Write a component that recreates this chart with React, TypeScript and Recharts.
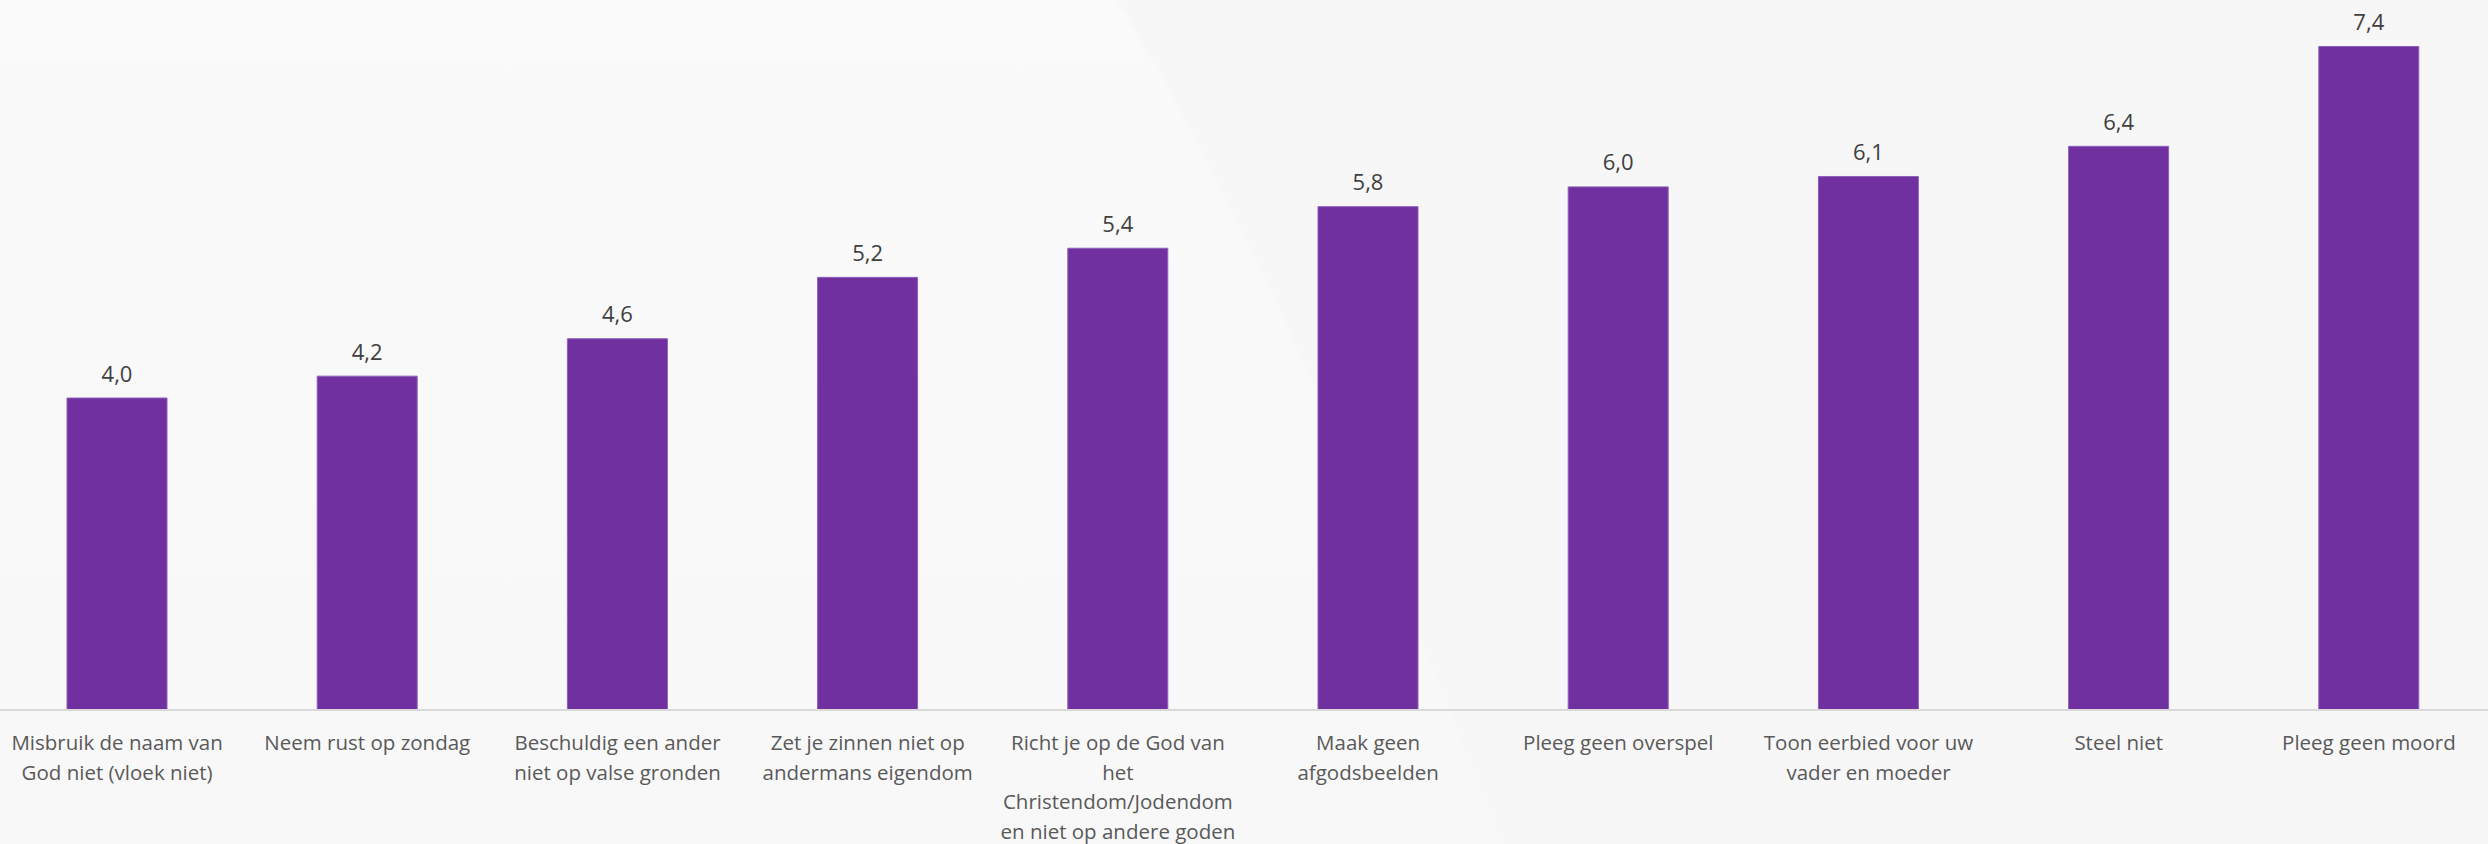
import React from 'react';
import { BarChart, Bar, XAxis, YAxis, LabelList } from 'recharts';

// Category labels, already split into the lines shown under each bar
const categoryLines: string[][] = [
  ['Misbruik de naam van', 'God niet (vloek niet)'],
  ['Neem rust op zondag'],
  ['Beschuldig een ander', 'niet op valse gronden'],
  ['Zet je zinnen niet op', 'andermans eigendom'],
  ['Richt je op de God van', 'het', 'Christendom/Jodendom', 'en niet op andere goden'],
  ['Maak geen', 'afgodsbeelden'],
  ['Pleeg geen overspel'],
  ['Toon eerbied voor uw', 'vader en moeder'],
  ['Steel niet'],
  ['Pleeg geen moord'],
];
const categories: string[] = categoryLines.map((l) => l.join(' '));

// Scores (labels show one decimal)
const scores: number[] = [4.0, 4.21, 4.57, 5.16, 5.44, 5.84, 6.03, 6.13, 6.42, 7.38];

const data = categories.map((c, i) => ({ name: c, score: scores[i] }));

const fmt = (v: number) => v.toFixed(1).replace('.', ',');

const FONT = "'Open Sans', 'Noto Sans', sans-serif";

const CategoryTick = (props: any) => {
  const { x, y, payload } = props;
  const idx = categories.indexOf(payload.value);
  const lines = idx >= 0 ? categoryLines[idx] : [String(payload.value)];
  return (
    <text
      x={x}
      y={y + 40}
      textAnchor="middle"
      fill="#595959"
      fontFamily={FONT}
      fontSize={20.5}
    >
      {lines.map((l, i) => (
        <tspan key={i} x={x} dy={i === 0 ? 0 : 29.6}>
          {l}
        </tspan>
      ))}
    </text>
  );
};

const ValueLabel = (props: any) => {
  const { x, y, width, value } = props;
  return (
    <text
      x={Number(x) + Number(width) / 2}
      y={Number(y) - 16.5}
      textAnchor="middle"
      fill="#404040"
      fontFamily={FONT}
      fontSize={22}
    >
      {fmt(Number(value))}
    </text>
  );
};

export default function App() {
  return (
    <div
      style={{
        position: 'absolute',
        left: 0,
        top: 0,
        width: 2488,
        height: 844,
        overflow: 'hidden',
        background: '#f8f8f8',
      }}
    >
      <svg
        width={2488}
        height={844}
        style={{ position: 'absolute', left: 0, top: 0 }}
      >
        <defs>
          <linearGradient id="bgfade" x1="0" y1="0" x2="0" y2="1">
            <stop offset="0" stopColor="#fafafa" stopOpacity={1} />
            <stop offset="0.45" stopColor="#fafafa" stopOpacity={0.6} />
            <stop offset="1" stopColor="#fafafa" stopOpacity={0.3} />
          </linearGradient>
        </defs>
        <rect x={0} y={0} width={2488} height={844} fill="#f7f7f7" />
        <path d="M 0 0 L 1117 0 Q 1300 305 1500 844 L 0 844 Z" fill="url(#bgfade)" />
      </svg>
      <div style={{ position: 'absolute', left: -8.5, top: 0 }}>
        <BarChart
          width={2502}
          height={844}
          data={data}
          margin={{ top: 23.6, right: 0, left: 0, bottom: 0 }}
        >
          <XAxis
            dataKey="name"
            interval={0}
            height={134}
            tickLine={false}
            tickSize={0}
            tickMargin={0}
            axisLine={{ stroke: '#d9d9d9', strokeWidth: 2 }}
            tick={<CategoryTick />}
          />
          <YAxis hide type="number" domain={[1, 7.6]} />
          <Bar
            dataKey="score"
            fill="#7030a0"
            stroke="#8e60bd"
            strokeWidth={1}
            barSize={100}
            isAnimationActive={false}
          >
            <LabelList dataKey="score" content={<ValueLabel />} />
          </Bar>
        </BarChart>
      </div>
    </div>
  );
}
